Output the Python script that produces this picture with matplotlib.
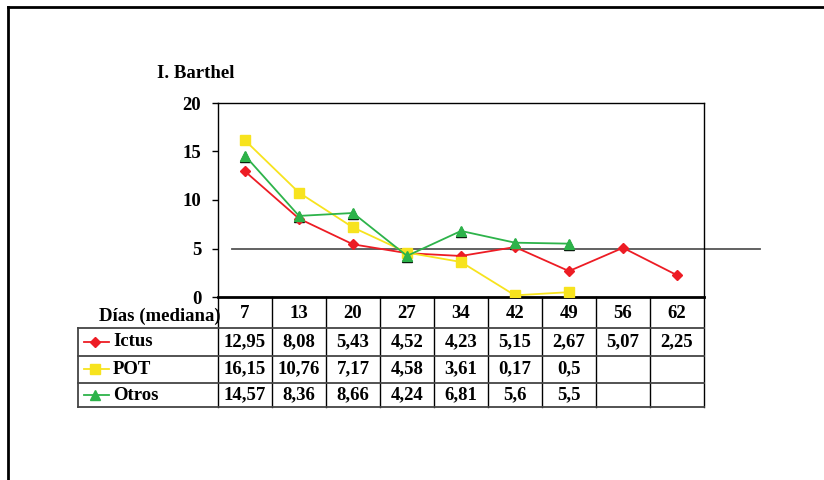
import matplotlib
matplotlib.use('Agg')
import matplotlib.pyplot as plt
from matplotlib.lines import Line2D
from matplotlib.transforms import blended_transform_factory, ScaledTranslation

# datos (mediana de dias)
dias = ['7', '13', '20', '27', '34', '42', '49', '56', '62']
ictus = [12.95, 8.08, 5.43, 4.52, 4.23, 5.15, 2.67, 5.07, 2.25]
pot = [16.15, 10.76, 7.17, 4.58, 3.61, 0.17, 0.5]
otros = [14.57, 8.36, 8.66, 4.24, 6.81, 5.6, 5.5]
referencia = 5
yticks = [0, 5, 10, 15, 20]

plt.rcParams['font.family'] = ['Liberation Serif', 'DejaVu Serif']
plt.rcParams['font.weight'] = 'bold'

W, H = 824, 480
fig = plt.figure(figsize=(W / 100, H / 100), dpi=100)


def fx(x):
    return x / W


def fy(y):
    return 1 - y / H


ax = fig.add_axes([fx(218), fy(297), fx(704) - fx(218), (297 - 103) / H])

series = [
    ('Ictus', ictus, '#ED1C24', 'D', 5.5),
    ('POT', pot, '#F7E31E', 's', 6.5),
    ('Otros', otros, '#2DB34A', '^', 7.5),
]

# linea de referencia, sale fuera del grafico por la derecha
ax.plot([0.029, 1.115], [referencia, referencia],
        transform=blended_transform_factory(ax.transAxes, ax.transData),
        color='#555555', lw=1.3, clip_on=False, zorder=1)

sombra = ax.transData + ScaledTranslation(0, -1.5 / 100, fig.dpi_scale_trans)
for nombre, valores, color, marca, tam in series:
    xs = list(range(len(valores)))
    if marca == '^':
        ax.plot(xs, valores, ls='none', marker=marca, ms=tam, color='black',
                transform=sombra, zorder=2)
    ax.plot(xs, valores, color=color, marker=marca, ms=tam, lw=1.3,
            mec=color, zorder=3)

ax.set_xlim(-0.5, len(dias) - 0.5)
ax.set_ylim(0, 20)
ax.set_yticks(yticks)
ax.set_xticks([])
ax.tick_params(axis='y', direction='out', length=4, width=1, pad=8, labelsize=13.5)
for s in ax.spines.values():
    s.set_color('black')
    s.set_linewidth(1)
ax.spines['bottom'].set_linewidth(2)

fig.text(fx(157), fy(73), 'I. Barthel', ha='left', va='center', fontsize=13.5)

# tabla de datos
trans = blended_transform_factory(ax.transData, fig.transFigure)
fs = 13.5
fig.text(fx(160), fy(316), 'Días (mediana)', ha='center', va='center', fontsize=fs)
for i, d in enumerate(dias):
    fig.text(0, fy(313), d, transform=trans, ha='center', va='center', fontsize=fs) \
        .set_x(i)

filas_y = [342, 369, 395]
for (nombre, valores, color, marca, tam), yc in zip(series, filas_y):
    fig.add_artist(Line2D([fx(84), fx(109)], [fy(yc), fy(yc)], color=color, lw=1.3))
    fig.add_artist(Line2D([fx(95)], [fy(yc)], color=color, marker=marca,
                          ms=tam, ls='none'))
    fig.text(fx(113), fy(yc), nombre, ha='left', va='center', fontsize=fs)
    for i, v in enumerate(valores):
        t = fig.text(0, fy(yc), str(v).replace('.', ','), transform=trans,
                     ha='center', va='center', fontsize=fs)
        t.set_x(i)

for k in range(len(dias) + 1):
    fig.add_artist(Line2D([k - 0.5, k - 0.5], [fy(297), fy(407)],
                          transform=trans, color='black', lw=1))
for yl in [328, 356, 383, 407]:
    fig.add_artist(Line2D([fx(78), fx(704)], [fy(yl), fy(yl)],
                          color='#444444', lw=1.3))
fig.add_artist(Line2D([fx(78), fx(78)], [fy(328), fy(407)], color='#444444', lw=1.3))

# marco exterior
fig.add_artist(Line2D([fx(8), 1], [fy(7), fy(7)], color='black', lw=2))
fig.add_artist(Line2D([fx(8), fx(8)], [fy(7), 0], color='black', lw=2))

fig.savefig('out.png', dpi=100, facecolor='white')
